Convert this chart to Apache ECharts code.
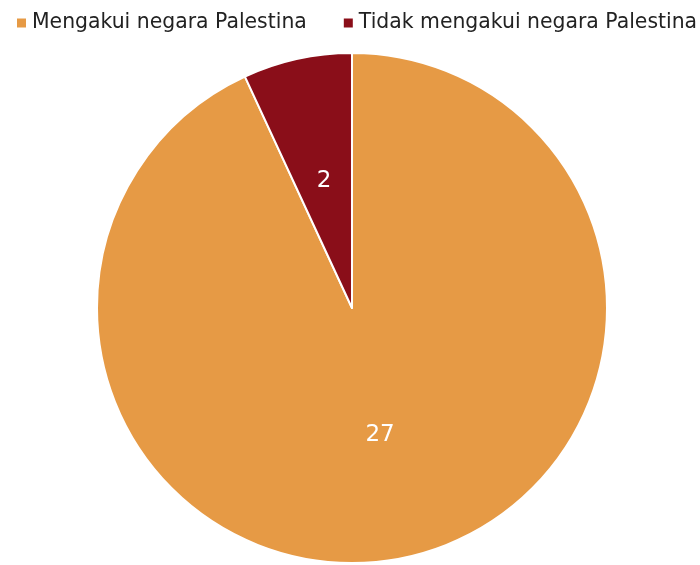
<!DOCTYPE html>
<html>
<head>
<meta charset="utf-8">
<script src="https://cdn.jsdelivr.net/npm/echarts@6/dist/echarts.min.js"></script>
<style>
  html, body { margin: 0; padding: 0; background: #fff; }
  #chart { width: 700px; height: 565px; }
</style>
</head>
<body>
<div id="chart"></div>
<script>
// data
var categories = ['Mengakui negara Palestina', 'Tidak mengakui negara Palestina'];
var values = [27, 2];
var colors = ['#E69A45', '#8A0E19'];

var pieData = [];
for (var i = 0; i < categories.length; i++) {
  pieData.push({ name: categories[i], value: values[i], itemStyle: { color: colors[i] } });
}

var myChart = echarts.init(document.getElementById('chart'));
var option = {
  animation: false,
  textStyle: { fontFamily: 'DejaVu Sans' },
  legend: {
    left: 15,
    top: 13,
    width: 685,
    padding: 0,
    itemWidth: 11,
    itemHeight: 11,
    itemGap: 35,
    icon: 'rect',
    textStyle: { fontSize: 20.4, color: '#222', fontFamily: 'DejaVu Sans' },
    data: categories
  },
  series: [{
    type: 'pie',
    center: [352, 308],
    radius: 255,
    startAngle: 90,
    clockwise: true,
    label: {
      show: true,
      position: 'inside',
      formatter: '{c}',
      color: '#fff',
      fontSize: 23,
      fontFamily: 'DejaVu Sans'
    },
    labelLine: { show: false },
    itemStyle: { borderColor: '#fff', borderWidth: 2 },
    emphasis: { disabled: true },
    data: pieData
  }]
};
myChart.setOption(option);
</script>
</body>
</html>
